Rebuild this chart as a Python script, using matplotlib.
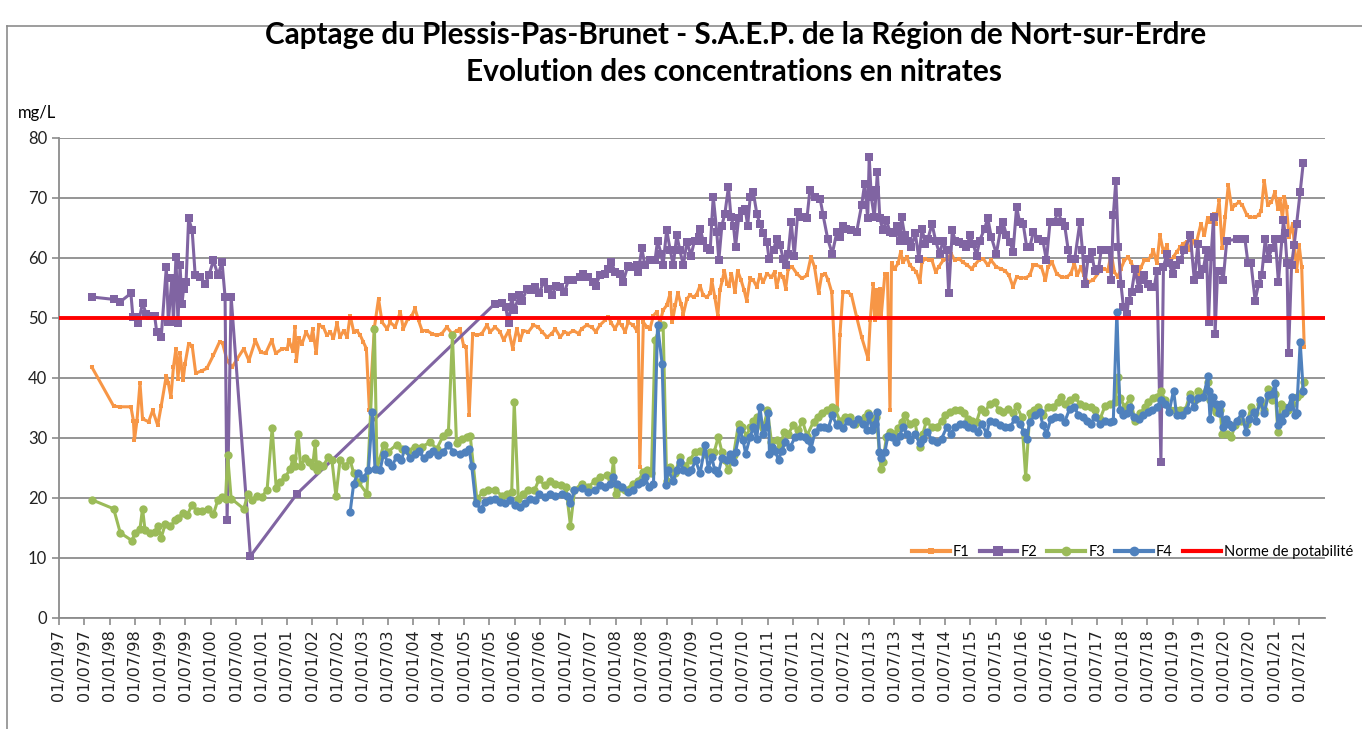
import datetime as dt
import numpy as np
import pandas as pd
import matplotlib
matplotlib.use("Agg")
import matplotlib.pyplot as plt
import matplotlib.dates as mdates
from matplotlib.lines import Line2D

# mesures (annee decimale, mg/L)
f1_points = [
    (1997.65, 41.8), (1998.08, 35.3), (1998.21, 35.2), (1998.42, 35.2), (1998.47, 32.9), (1998.49, 29.6),
    (1998.54, 32.9), (1998.60, 39.1), (1998.65, 33.2), (1998.77, 32.7), (1998.85, 34.6), (1998.95, 32.1),
    (1999.02, 35.4), (1999.12, 40.4), (1999.16, 39.1), (1999.21, 36.8), (1999.26, 41.8), (1999.31, 44.9),
    (1999.35, 39.9), (1999.39, 44.1), (1999.45, 39.6), (1999.49, 42.4), (1999.56, 45.7), (1999.63, 45.4),
    (1999.70, 40.8), (1999.82, 41.2), (1999.92, 41.6), (2000.05, 43.8), (2000.17, 46.0), (2000.23, 45.8),
    (2000.32, 42.9), (2000.42, 41.8), (2000.52, 43.2), (2000.65, 44.9), (2000.75, 42.9), (2000.88, 46.3),
    (2000.98, 44.3), (2001.08, 44.1), (2001.20, 46.3), (2001.28, 44.1), (2001.41, 44.9), (2001.51, 44.9),
    (2001.54, 46.3), (2001.62, 44.5), (2001.66, 48.5), (2001.69, 42.9), (2001.74, 46.6), (2001.80, 45.7),
    (2001.88, 47.7), (2001.97, 46.3), (2002.01, 48.1), (2002.08, 44.1), (2002.13, 48.8), (2002.22, 48.5),
    (2002.29, 47.1), (2002.36, 47.7), (2002.42, 46.6), (2002.49, 49.1), (2002.55, 46.8), (2002.62, 47.9),
    (2002.69, 46.8), (2002.75, 50.4), (2002.82, 47.7), (2002.88, 47.9), (2002.95, 47.1), (2003.01, 46.0),
    (2003.07, 44.9), (2003.13, 34.6), (2003.23, 48.5), (2003.31, 53.2), (2003.38, 49.3), (2003.48, 48.2),
    (2003.54, 49.3), (2003.64, 48.5), (2003.74, 51.0), (2003.80, 48.2), (2003.89, 49.9), (2003.97, 50.4),
    (2004.03, 51.6), (2004.10, 49.6), (2004.17, 47.9), (2004.27, 47.9), (2004.36, 47.4), (2004.46, 47.1),
    (2004.56, 47.4), (2004.66, 48.5), (2004.76, 47.4), (2004.86, 47.9), (2004.92, 48.2), (2004.99, 45.4),
    (2005.04, 45.2), (2005.10, 33.8), (2005.17, 47.4), (2005.25, 47.1), (2005.35, 47.4), (2005.45, 48.8),
    (2005.52, 47.7), (2005.61, 48.5), (2005.71, 47.7), (2005.78, 46.3), (2005.88, 47.9), (2005.96, 44.9),
    (2006.04, 48.2), (2006.11, 46.3), (2006.17, 47.9), (2006.27, 47.7), (2006.37, 48.8), (2006.46, 48.5),
    (2006.54, 47.7), (2006.64, 46.8), (2006.73, 47.4), (2006.80, 48.2), (2006.90, 46.8), (2006.98, 47.7),
    (2007.06, 47.4), (2007.16, 47.9), (2007.26, 47.4), (2007.32, 48.2), (2007.42, 48.8), (2007.52, 48.5),
    (2007.60, 47.7), (2007.68, 48.8), (2007.78, 49.6), (2007.85, 50.2), (2007.91, 49.1), (2007.98, 48.2),
    (2008.05, 49.3), (2008.11, 48.8), (2008.18, 47.7), (2008.24, 49.3), (2008.34, 48.8), (2008.41, 47.9),
    (2008.44, 49.3), (2008.47, 25.2), (2008.54, 49.3), (2008.61, 48.5), (2008.67, 48.2), (2008.74, 50.4),
    (2008.80, 51.0), (2008.87, 49.3), (2008.93, 51.3), (2009.00, 52.1), (2009.07, 54.1), (2009.11, 49.3),
    (2009.17, 52.1), (2009.22, 54.2), (2009.28, 52.4), (2009.33, 50.7), (2009.40, 53.2), (2009.46, 53.8),
    (2009.53, 53.5), (2009.59, 53.9), (2009.66, 55.4), (2009.72, 53.8), (2009.79, 53.5), (2009.86, 54.1),
    (2009.89, 56.3), (2009.95, 53.5), (2010.01, 50.4), (2010.05, 54.6), (2010.10, 56.3), (2010.14, 57.9),
    (2010.19, 55.7), (2010.23, 55.4), (2010.28, 57.4), (2010.35, 54.3), (2010.40, 57.9), (2010.47, 56.3),
    (2010.53, 54.6), (2010.58, 52.9), (2010.65, 56.6), (2010.71, 56.3), (2010.78, 55.2), (2010.84, 57.1),
    (2010.91, 56.0), (2010.98, 57.4), (2011.07, 56.8), (2011.13, 57.7), (2011.17, 55.2), (2011.24, 57.4),
    (2011.30, 56.8), (2011.35, 54.9), (2011.40, 58.2), (2011.48, 58.5), (2011.57, 57.4), (2011.67, 56.6),
    (2011.77, 57.1), (2011.85, 60.2), (2011.92, 58.5), (2012.00, 54.1), (2012.06, 57.1), (2012.13, 57.4),
    (2012.19, 56.3), (2012.26, 54.3), (2012.37, 35.2), (2012.42, 47.1), (2012.48, 54.3), (2012.58, 54.3),
    (2012.65, 53.8), (2012.75, 50.2), (2012.85, 46.8), (2012.98, 43.2), (2013.02, 49.6), (2013.08, 55.7),
    (2013.11, 49.6), (2013.14, 54.6), (2013.18, 50.7), (2013.21, 54.9), (2013.24, 50.7), (2013.31, 57.4),
    (2013.36, 57.4), (2013.41, 34.6), (2013.44, 59.1), (2013.50, 58.2), (2013.57, 59.1), (2013.62, 61.0),
    (2013.67, 59.3), (2013.74, 60.2), (2013.80, 58.8), (2013.87, 58.2), (2013.93, 57.7), (2014.00, 56.0),
    (2014.04, 59.3), (2014.11, 59.9), (2014.18, 59.6), (2014.24, 59.6), (2014.31, 57.7), (2014.37, 58.5),
    (2014.46, 59.6), (2014.55, 59.9), (2014.62, 60.7), (2014.69, 59.6), (2014.77, 59.9), (2014.85, 59.3),
    (2014.94, 58.8), (2015.02, 58.2), (2015.08, 58.8), (2015.16, 59.6), (2015.25, 59.9), (2015.34, 58.8),
    (2015.41, 59.6), (2015.51, 58.5), (2015.60, 58.2), (2015.68, 57.9), (2015.76, 57.1), (2015.84, 55.2),
    (2015.91, 56.8), (2015.99, 56.7), (2016.09, 56.7), (2016.17, 57.1), (2016.24, 58.8), (2016.30, 58.8),
    (2016.40, 58.5), (2016.48, 56.3), (2016.53, 58.5), (2016.61, 59.3), (2016.70, 57.4), (2016.80, 56.8),
    (2016.90, 56.8), (2016.98, 57.4), (2017.05, 59.1), (2017.11, 57.1), (2017.18, 58.5), (2017.24, 57.1),
    (2017.32, 56.0), (2017.42, 56.3), (2017.56, 57.9), (2017.64, 58.2), (2017.71, 57.9), (2017.78, 60.7),
    (2017.84, 57.7), (2017.91, 56.8), (2017.97, 58.2), (2018.04, 59.6), (2018.11, 60.2), (2018.17, 59.3),
    (2018.24, 57.9), (2018.30, 57.1), (2018.37, 58.5), (2018.43, 59.6), (2018.50, 59.6), (2018.57, 60.4),
    (2018.61, 61.3), (2018.68, 59.1), (2018.74, 63.8), (2018.81, 61.0), (2018.88, 62.1), (2018.94, 59.3),
    (2019.01, 60.2), (2019.07, 61.0), (2019.14, 61.8), (2019.20, 62.4), (2019.27, 62.7), (2019.34, 61.3),
    (2019.40, 62.9), (2019.47, 62.9), (2019.55, 65.7), (2019.62, 63.8), (2019.68, 66.6), (2019.73, 66.0),
    (2019.80, 67.4), (2019.84, 65.7), (2019.91, 69.6), (2019.97, 61.6), (2020.03, 66.8), (2020.09, 72.1),
    (2020.16, 68.2), (2020.22, 68.8), (2020.30, 69.3), (2020.37, 68.8), (2020.46, 67.1), (2020.52, 66.8),
    (2020.61, 66.8), (2020.69, 67.1), (2020.74, 67.9), (2020.80, 72.9), (2020.87, 68.8), (2020.94, 69.3),
    (2021.01, 71.0), (2021.07, 68.2), (2021.11, 69.9), (2021.16, 66.6), (2021.20, 70.2), (2021.24, 68.5),
    (2021.29, 63.5), (2021.36, 65.7), (2021.44, 57.9), (2021.49, 62.1), (2021.54, 58.5), (2021.59, 45.2),
]

f2_points = [
    (1997.65, 53.5), (1998.08, 53.1), (1998.21, 52.7), (1998.42, 54.1), (1998.46, 50.2), (1998.52, 50.2),
    (1998.57, 49.2), (1998.65, 52.5), (1998.72, 50.7), (1998.80, 50.4), (1998.89, 50.3), (1998.93, 47.7),
    (1999.02, 46.9), (1999.12, 58.5), (1999.16, 49.3), (1999.23, 56.6), (1999.26, 49.3), (1999.31, 60.2),
    (1999.35, 49.2), (1999.39, 58.8), (1999.43, 52.4), (1999.46, 54.9), (1999.51, 56.0), (1999.56, 66.6),
    (1999.63, 64.6), (1999.69, 57.1), (1999.79, 56.8), (1999.89, 55.7), (1999.96, 57.1), (2000.05, 59.6),
    (2000.14, 57.1), (2000.22, 59.3), (2000.28, 53.5), (2000.32, 16.4), (2000.40, 53.5), (2000.78, 10.3),
    (2001.70, 20.7), (2005.61, 52.4), (2005.75, 52.5), (2005.82, 51.8), (2005.88, 49.1), (2005.94, 53.5),
    (2005.99, 51.3), (2006.09, 53.8), (2006.15, 52.9), (2006.24, 54.9), (2006.33, 54.6), (2006.40, 55.2),
    (2006.48, 54.1), (2006.57, 56.0), (2006.66, 54.9), (2006.74, 53.8), (2006.81, 55.4), (2006.89, 55.2),
    (2006.98, 54.3), (2007.06, 56.3), (2007.16, 56.3), (2007.29, 56.8), (2007.35, 57.4), (2007.45, 56.8),
    (2007.55, 56.0), (2007.60, 55.4), (2007.68, 57.1), (2007.78, 57.4), (2007.85, 58.2), (2007.91, 59.3),
    (2007.98, 57.7), (2008.08, 57.4), (2008.14, 56.0), (2008.23, 58.6), (2008.31, 58.5), (2008.41, 58.8),
    (2008.44, 57.7), (2008.51, 61.6), (2008.57, 58.8), (2008.67, 59.6), (2008.77, 59.6), (2008.82, 62.9),
    (2008.89, 60.7), (2008.93, 58.8), (2009.00, 64.7), (2009.07, 61.3), (2009.13, 58.8), (2009.20, 63.8),
    (2009.26, 61.3), (2009.33, 58.8), (2009.40, 62.7), (2009.48, 60.4), (2009.55, 62.9), (2009.63, 63.5),
    (2009.66, 64.9), (2009.72, 62.9), (2009.79, 61.6), (2009.86, 61.3), (2009.89, 66.0), (2009.92, 70.2),
    (2009.99, 64.3), (2010.03, 59.6), (2010.09, 65.4), (2010.15, 67.4), (2010.22, 71.8), (2010.27, 66.8),
    (2010.32, 65.4), (2010.36, 61.8), (2010.42, 66.6), (2010.48, 67.9), (2010.55, 68.2), (2010.60, 65.4),
    (2010.65, 70.2), (2010.71, 71.0), (2010.78, 67.4), (2010.84, 65.7), (2010.91, 64.1), (2010.98, 62.7),
    (2011.02, 59.9), (2011.11, 61.3), (2011.17, 63.2), (2011.24, 62.1), (2011.30, 59.9), (2011.35, 58.8),
    (2011.40, 60.7), (2011.46, 66.0), (2011.52, 60.4), (2011.59, 67.7), (2011.67, 66.8), (2011.77, 66.6),
    (2011.83, 71.4), (2011.93, 70.2), (2012.03, 69.9), (2012.09, 67.1), (2012.18, 63.2), (2012.27, 60.7),
    (2012.36, 64.3), (2012.42, 63.5), (2012.48, 65.4), (2012.55, 64.9), (2012.65, 64.6), (2012.75, 64.3),
    (2012.85, 68.8), (2012.91, 72.4), (2012.97, 66.6), (2013.00, 76.8), (2013.04, 70.2), (2013.10, 66.8),
    (2013.14, 71.3), (2013.16, 74.3), (2013.21, 66.6), (2013.27, 64.6), (2013.34, 66.3), (2013.41, 64.3),
    (2013.47, 64.1), (2013.54, 65.4), (2013.60, 62.9), (2013.64, 66.8), (2013.70, 63.8), (2013.77, 62.9),
    (2013.83, 61.8), (2013.91, 64.1), (2013.98, 59.9), (2014.04, 64.9), (2014.11, 62.4), (2014.16, 63.2),
    (2014.24, 65.7), (2014.31, 62.9), (2014.39, 60.7), (2014.46, 62.9), (2014.53, 61.3), (2014.57, 54.1),
    (2014.64, 64.6), (2014.70, 62.9), (2014.77, 62.7), (2014.85, 62.4), (2014.92, 61.8), (2014.99, 63.8),
    (2015.05, 62.4), (2015.12, 60.4), (2015.18, 62.9), (2015.28, 64.9), (2015.34, 66.7), (2015.41, 63.5),
    (2015.51, 60.7), (2015.59, 64.6), (2015.64, 66.0), (2015.71, 63.8), (2015.78, 62.7), (2015.84, 61.0),
    (2015.91, 68.5), (2015.97, 66.0), (2016.04, 65.7), (2016.11, 61.8), (2016.17, 61.8), (2016.24, 64.3),
    (2016.34, 63.2), (2016.43, 62.9), (2016.50, 59.6), (2016.57, 66.0), (2016.65, 66.0), (2016.73, 67.7),
    (2016.80, 66.0), (2016.86, 65.4), (2016.93, 61.3), (2016.99, 59.9), (2017.06, 59.9), (2017.16, 66.0),
    (2017.21, 61.3), (2017.26, 55.7), (2017.32, 59.9), (2017.39, 61.0), (2017.45, 57.9), (2017.53, 58.2),
    (2017.58, 61.3), (2017.66, 61.3), (2017.74, 61.3), (2017.78, 56.3), (2017.82, 67.1), (2017.87, 72.9),
    (2017.92, 61.8), (2017.97, 55.7), (2018.02, 51.8), (2018.09, 50.7), (2018.12, 52.9), (2018.18, 54.3),
    (2018.25, 58.2), (2018.32, 54.9), (2018.38, 56.3), (2018.43, 57.1), (2018.50, 55.7), (2018.57, 55.2),
    (2018.63, 55.2), (2018.68, 57.9), (2018.76, 26.0), (2018.81, 58.5), (2018.88, 60.7), (2018.92, 59.1),
    (2018.99, 57.4), (2019.05, 58.8), (2019.14, 59.6), (2019.22, 61.3), (2019.34, 63.8), (2019.42, 56.3),
    (2019.49, 62.4), (2019.53, 57.1), (2019.60, 58.2), (2019.66, 61.3), (2019.70, 49.3), (2019.75, 60.2),
    (2019.80, 66.8), (2019.83, 47.4), (2019.88, 57.9), (2019.95, 57.9), (2019.99, 56.3), (2020.06, 62.9),
    (2020.26, 63.1), (2020.42, 63.1), (2020.48, 59.1), (2020.54, 59.1), (2020.62, 52.9), (2020.69, 55.7),
    (2020.75, 57.1), (2020.82, 63.1), (2020.88, 59.9), (2020.95, 61.6), (2021.02, 63.1), (2021.08, 56.0),
    (2021.15, 63.1), (2021.18, 66.3), (2021.21, 64.1), (2021.25, 59.1), (2021.28, 44.1), (2021.34, 58.8),
    (2021.39, 62.1), (2021.44, 65.7), (2021.51, 71.0), (2021.57, 75.8),
]

f3_points = [
    (1997.65, 19.7), (1998.08, 18.2), (1998.21, 14.2), (1998.44, 12.9), (1998.50, 14.1), (1998.60, 14.9),
    (1998.65, 18.2), (1998.70, 14.6), (1998.80, 14.2), (1998.89, 14.3), (1998.95, 15.4), (1999.02, 13.4),
    (1999.10, 15.7), (1999.20, 15.3), (1999.30, 16.3), (1999.36, 16.6), (1999.44, 17.5), (1999.53, 17.1),
    (1999.63, 18.9), (1999.72, 17.9), (1999.82, 17.8), (1999.94, 18.1), (2000.05, 17.3), (2000.14, 19.7),
    (2000.22, 20.1), (2000.29, 19.9), (2000.33, 27.1), (2000.40, 19.9), (2000.65, 18.2), (2000.73, 20.6),
    (2000.81, 19.6), (2000.91, 20.4), (2001.01, 20.2), (2001.11, 21.4), (2001.21, 31.7), (2001.29, 21.6),
    (2001.37, 22.7), (2001.47, 23.5), (2001.57, 24.9), (2001.62, 26.6), (2001.66, 25.3), (2001.72, 30.7),
    (2001.77, 25.4), (2001.86, 26.6), (2001.93, 26.0), (2002.01, 25.4), (2002.06, 29.1), (2002.09, 24.6),
    (2002.12, 25.7), (2002.22, 25.4), (2002.32, 26.8), (2002.39, 26.3), (2002.47, 20.3), (2002.55, 26.3),
    (2002.65, 25.4), (2002.75, 26.3), (2002.82, 24.1), (2002.91, 22.7), (2003.08, 20.7), (2003.23, 48.2),
    (2003.28, 24.9), (2003.41, 28.8), (2003.50, 27.7), (2003.67, 28.9), (2003.77, 28.2), (2003.90, 27.9),
    (2004.03, 28.5), (2004.16, 28.5), (2004.33, 29.3), (2004.46, 28.2), (2004.59, 30.4), (2004.69, 31.0),
    (2004.77, 47.1), (2004.85, 29.1), (2004.95, 29.9), (2005.05, 30.2), (2005.12, 30.4), (2005.25, 19.9),
    (2005.38, 21.0), (2005.48, 21.4), (2005.61, 21.3), (2005.75, 20.4), (2005.84, 20.7), (2005.94, 21.0),
    (2005.99, 36.0), (2006.07, 19.9), (2006.17, 20.7), (2006.27, 21.4), (2006.39, 21.3), (2006.48, 23.1),
    (2006.59, 22.1), (2006.70, 22.8), (2006.80, 22.4), (2006.91, 22.1), (2007.01, 21.8), (2007.10, 15.4),
    (2007.18, 21.3), (2007.32, 22.4), (2007.45, 21.8), (2007.59, 22.9), (2007.68, 23.5), (2007.82, 23.8),
    (2007.91, 23.2), (2007.95, 26.3), (2007.99, 20.7), (2008.08, 21.6), (2008.18, 21.3), (2008.34, 22.4),
    (2008.44, 22.9), (2008.54, 24.3), (2008.61, 24.6), (2008.70, 24.1), (2008.77, 46.3), (2008.87, 48.5),
    (2008.93, 48.8), (2009.00, 22.9), (2009.07, 25.2), (2009.17, 24.1), (2009.26, 26.8), (2009.36, 25.4),
    (2009.46, 26.3), (2009.56, 27.7), (2009.66, 27.9), (2009.76, 27.4), (2009.86, 27.7), (2009.94, 27.7),
    (2010.02, 30.2), (2010.09, 27.7), (2010.15, 26.3), (2010.22, 24.6), (2010.32, 27.1), (2010.42, 32.4),
    (2010.48, 31.8), (2010.58, 30.4), (2010.65, 31.8), (2010.71, 32.9), (2010.78, 33.5), (2010.84, 32.4),
    (2010.91, 31.6), (2010.99, 34.6), (2011.07, 29.3), (2011.17, 29.6), (2011.24, 28.5), (2011.32, 31.0),
    (2011.40, 30.7), (2011.50, 32.1), (2011.60, 31.3), (2011.68, 32.9), (2011.77, 30.4), (2011.90, 32.7),
    (2011.98, 33.5), (2012.06, 34.1), (2012.16, 34.6), (2012.26, 35.2), (2012.32, 34.9), (2012.42, 32.9),
    (2012.52, 33.5), (2012.62, 33.5), (2012.72, 32.4), (2012.81, 32.9), (2012.91, 33.5), (2012.98, 34.1),
    (2013.04, 33.2), (2013.10, 32.4), (2013.14, 33.5), (2013.23, 24.9), (2013.27, 26.0), (2013.34, 30.2),
    (2013.41, 31.0), (2013.49, 30.7), (2013.57, 31.6), (2013.64, 32.7), (2013.70, 33.8), (2013.80, 32.4),
    (2013.90, 32.7), (2014.00, 28.5), (2014.06, 30.7), (2014.13, 32.9), (2014.23, 31.8), (2014.33, 31.8),
    (2014.43, 32.9), (2014.49, 33.8), (2014.59, 34.3), (2014.69, 34.6), (2014.79, 34.6), (2014.87, 34.1),
    (2014.95, 33.2), (2015.03, 32.9), (2015.12, 32.7), (2015.20, 34.9), (2015.28, 34.3), (2015.38, 35.7),
    (2015.48, 36.0), (2015.56, 34.6), (2015.64, 34.3), (2015.74, 34.9), (2015.84, 34.1), (2015.91, 35.4),
    (2016.01, 33.5), (2016.09, 23.5), (2016.17, 34.1), (2016.26, 34.6), (2016.34, 35.2), (2016.43, 33.8),
    (2016.53, 35.2), (2016.63, 35.2), (2016.73, 36.0), (2016.78, 36.8), (2016.86, 35.7), (2016.96, 36.3),
    (2017.06, 36.8), (2017.16, 35.7), (2017.26, 35.4), (2017.38, 35.2), (2017.45, 34.6), (2017.56, 33.2),
    (2017.66, 35.4), (2017.76, 35.7), (2017.86, 36.0), (2017.91, 40.2), (2017.95, 36.6), (2018.05, 35.2),
    (2018.15, 36.6), (2018.25, 32.9), (2018.35, 34.1), (2018.45, 35.2), (2018.51, 36.0), (2018.61, 36.6),
    (2018.68, 36.8), (2018.76, 37.9), (2018.84, 36.3), (2018.94, 34.6), (2019.04, 34.6), (2019.14, 34.6),
    (2019.24, 34.6), (2019.34, 37.4), (2019.44, 36.3), (2019.50, 37.9), (2019.60, 37.4), (2019.69, 39.3),
    (2019.73, 36.3), (2019.78, 35.2), (2019.84, 34.3), (2019.93, 34.6), (2019.97, 30.7), (2020.06, 30.7),
    (2020.15, 30.1), (2020.22, 32.1), (2020.34, 32.9), (2020.46, 32.4), (2020.54, 35.2), (2020.62, 34.1),
    (2020.72, 35.7), (2020.80, 34.6), (2020.88, 38.2), (2020.95, 36.3), (2021.02, 37.4), (2021.07, 31.0),
    (2021.13, 35.7), (2021.20, 35.2), (2021.27, 34.6), (2021.34, 35.7), (2021.44, 36.8), (2021.51, 37.4),
    (2021.59, 39.3),
]

f4_points = [
    (2002.75, 17.7), (2002.82, 22.4), (2002.90, 24.1), (2003.01, 23.4), (2003.11, 24.6), (2003.19, 34.3),
    (2003.24, 24.9), (2003.34, 24.6), (2003.41, 27.4), (2003.49, 26.0), (2003.58, 25.4), (2003.67, 26.9),
    (2003.76, 26.3), (2003.83, 28.2), (2003.94, 26.6), (2004.03, 27.4), (2004.11, 27.9), (2004.20, 26.6),
    (2004.30, 27.4), (2004.39, 27.9), (2004.49, 27.1), (2004.59, 27.7), (2004.69, 28.9), (2004.79, 27.7),
    (2004.92, 27.4), (2005.02, 27.7), (2005.10, 28.1), (2005.15, 25.4), (2005.23, 19.1), (2005.33, 18.2),
    (2005.41, 19.3), (2005.51, 19.6), (2005.61, 19.9), (2005.71, 19.3), (2005.81, 19.1), (2005.91, 19.6),
    (2006.01, 18.8), (2006.11, 18.5), (2006.20, 19.1), (2006.30, 19.9), (2006.40, 19.6), (2006.48, 20.7),
    (2006.59, 20.1), (2006.70, 20.6), (2006.80, 20.4), (2006.93, 20.7), (2007.03, 20.4), (2007.10, 19.1),
    (2007.18, 21.3), (2007.32, 21.6), (2007.45, 21.0), (2007.59, 21.3), (2007.68, 22.1), (2007.78, 21.8),
    (2007.88, 22.4), (2007.95, 23.5), (2008.01, 22.4), (2008.11, 21.8), (2008.23, 21.0), (2008.34, 21.3),
    (2008.44, 22.4), (2008.51, 22.7), (2008.57, 23.5), (2008.65, 21.8), (2008.74, 22.4), (2008.82, 48.8),
    (2008.91, 42.4), (2008.98, 22.1), (2009.03, 24.6), (2009.13, 22.9), (2009.20, 24.6), (2009.26, 26.0),
    (2009.33, 24.6), (2009.43, 24.3), (2009.49, 24.6), (2009.57, 26.3), (2009.66, 24.1), (2009.76, 28.8),
    (2009.82, 24.9), (2009.89, 26.8), (2009.95, 24.6), (2010.02, 24.1), (2010.09, 26.6), (2010.19, 26.3),
    (2010.25, 27.4), (2010.32, 26.0), (2010.36, 27.7), (2010.45, 31.3), (2010.51, 29.6), (2010.56, 27.4),
    (2010.65, 30.2), (2010.71, 31.8), (2010.78, 29.9), (2010.84, 35.2), (2010.91, 30.7), (2010.96, 31.8),
    (2011.01, 34.1), (2011.03, 27.4), (2011.09, 28.5), (2011.14, 27.9), (2011.21, 26.3), (2011.27, 27.9),
    (2011.34, 29.3), (2011.44, 28.5), (2011.54, 30.2), (2011.63, 30.4), (2011.73, 30.2), (2011.80, 29.6),
    (2011.85, 28.2), (2011.93, 31.0), (2012.03, 31.8), (2012.11, 31.8), (2012.19, 31.6), (2012.27, 33.8),
    (2012.36, 32.1), (2012.39, 32.4), (2012.48, 31.6), (2012.58, 32.9), (2012.68, 32.4), (2012.78, 33.2),
    (2012.88, 32.4), (2012.95, 31.3), (2012.99, 33.8), (2013.06, 31.3), (2013.11, 32.4), (2013.16, 34.3),
    (2013.20, 27.7), (2013.24, 26.6), (2013.31, 27.7), (2013.37, 30.4), (2013.44, 30.2), (2013.52, 29.3),
    (2013.60, 30.4), (2013.67, 31.8), (2013.74, 30.7), (2013.80, 29.6), (2013.90, 30.7), (2014.00, 29.1),
    (2014.06, 29.9), (2014.15, 31.0), (2014.24, 29.6), (2014.33, 29.3), (2014.43, 29.9), (2014.53, 31.8),
    (2014.61, 30.7), (2014.69, 31.8), (2014.79, 32.4), (2014.87, 32.4), (2014.95, 31.8), (2015.05, 31.6),
    (2015.14, 31.0), (2015.22, 32.4), (2015.32, 30.7), (2015.38, 32.9), (2015.48, 32.7), (2015.58, 32.1),
    (2015.68, 31.8), (2015.78, 31.8), (2015.88, 33.2), (2015.97, 32.4), (2016.06, 31.0), (2016.11, 29.9),
    (2016.17, 32.7), (2016.27, 33.8), (2016.37, 34.3), (2016.43, 32.1), (2016.50, 30.7), (2016.59, 33.2),
    (2016.67, 33.5), (2016.76, 33.5), (2016.86, 32.7), (2016.96, 34.9), (2017.05, 35.2), (2017.13, 33.8),
    (2017.23, 33.5), (2017.31, 32.9), (2017.38, 32.4), (2017.45, 33.5), (2017.56, 32.4), (2017.66, 32.9),
    (2017.76, 32.7), (2017.82, 32.9), (2017.89, 51.0), (2017.95, 34.6), (2018.02, 33.8), (2018.09, 34.1),
    (2018.15, 35.2), (2018.22, 33.5), (2018.32, 33.2), (2018.41, 33.8), (2018.51, 34.3), (2018.59, 34.6),
    (2018.68, 35.2), (2018.76, 36.3), (2018.84, 35.7), (2018.92, 34.3), (2019.01, 37.9), (2019.07, 33.8),
    (2019.17, 33.8), (2019.27, 34.6), (2019.34, 36.6), (2019.42, 35.2), (2019.50, 36.6), (2019.60, 36.8),
    (2019.69, 40.4), (2019.70, 37.9), (2019.73, 33.2), (2019.78, 36.8), (2019.84, 35.7), (2019.90, 34.1),
    (2019.95, 35.7), (2019.99, 31.8), (2020.04, 33.2), (2020.11, 32.4), (2020.17, 31.8), (2020.26, 32.9),
    (2020.36, 34.1), (2020.44, 31.0), (2020.50, 33.2), (2020.59, 34.3), (2020.63, 32.9), (2020.72, 36.3),
    (2020.80, 34.1), (2020.88, 37.1), (2020.95, 37.4), (2021.02, 39.1), (2021.07, 32.1), (2021.11, 33.5),
    (2021.16, 32.9), (2021.21, 34.1), (2021.28, 35.2), (2021.34, 36.8), (2021.40, 33.8), (2021.44, 34.1),
    (2021.51, 46.0), (2021.57, 37.9),
]

norme = 50
series_names = ["F1", "F2", "F3", "F4"]
colors = {"F1": "#F79646", "F2": "#8064A2", "F3": "#9BBB59", "F4": "#4F81BD"}


def to_dates(points):
    years = np.array([p[0] for p in points])
    vals = np.array([p[1] for p in points])
    start = dt.datetime(1997, 1, 1)
    dates = [start + dt.timedelta(days=(y - 1997) * 365.25) for y in years]
    return dates, vals


fig = plt.figure(figsize=(13.62, 7.29), dpi=100)
ax = fig.add_axes([0.0433, 0.1523, 0.9295, 0.6584])

styles = {
    "F1": dict(marker="s", markersize=3.5),
    "F2": dict(marker="s", markersize=5.5),
    "F3": dict(marker="o", markersize=6),
    "F4": dict(marker="o", markersize=6),
}
data = {"F1": f1_points, "F2": f2_points, "F3": f3_points, "F4": f4_points}

for name in series_names:
    d, v = to_dates(data[name])
    ax.plot(d, v, color=colors[name], lw=2.2, markeredgewidth=0,
            label=name, **styles[name])

ax.axhline(norme, color="#FF0000", lw=2.8, zorder=5)

# axes
ax.set_ylim(0, 80)
ax.set_yticks(range(0, 81, 10))
ax.set_xlim(dt.datetime(1997, 1, 1), dt.datetime(2022, 1, 1))
ticks = pd.date_range("1997-01-01", "2021-07-01", freq="6MS")
ax.set_xticks(ticks)
ax.xaxis.set_major_formatter(mdates.DateFormatter("%d/%m/%y"))
for lab in ax.get_xticklabels():
    lab.set_rotation(90)
    lab.set_fontfamily("DejaVu Sans")
    lab.set_fontsize(11.5)
for lab in ax.get_yticklabels():
    lab.set_fontfamily("Lato")
    lab.set_fontsize(12)

ax.grid(axis="y", color="#8c8c8c", lw=1.3)
ax.set_axisbelow(True)
for s in ["top", "right"]:
    ax.spines[s].set_visible(False)
for s in ["left", "bottom"]:
    ax.spines[s].set_color("#8c8c8c")
    ax.spines[s].set_linewidth(1.3)
ax.tick_params(axis="both", color="#8c8c8c", length=5, width=1.2, labelcolor="#222222")
ax.tick_params(axis="x", pad=3)

fig.text(0.54, 0.952, "Captage du Plessis-Pas-Brunet - S.A.E.P. de la Région de Nort-sur-Erdre",
         ha="center", va="center", fontsize=21.3, fontweight="bold", family="Lato")
fig.text(0.539, 0.901, "Evolution des concentrations en nitrates",
         ha="center", va="center", fontsize=21.5, fontweight="bold", family="Lato")
fig.text(0.013, 0.845, "mg/L", ha="left", va="center", fontsize=12, family="Lato")

# legende
handles = []
for name in series_names:
    handles.append(Line2D([], [], color=colors[name], lw=3, markeredgewidth=0,
                          marker=styles[name]["marker"], markersize=styles[name]["markersize"] + 1))
handles.append(Line2D([], [], color="#FF0000", lw=3))
labels = series_names + ["Norme de potabilité"]
fig.legend(handles, labels, loc="center right", bbox_to_anchor=(1.003, 0.243), ncol=5,
           frameon=False, handlelength=2.6, columnspacing=0.7, handletextpad=0.2,
           prop={"family": "Lato", "size": 10.5})

# cadre du graphique
fig.add_artist(Line2D([0.005, 0.005], [0.0, 0.964], transform=fig.transFigure, color="#8c8c8c", lw=1.2))
fig.add_artist(Line2D([0.005, 1.0], [0.964, 0.964], transform=fig.transFigure, color="#8c8c8c", lw=1.2))

fig.savefig("out.png", dpi=100)
